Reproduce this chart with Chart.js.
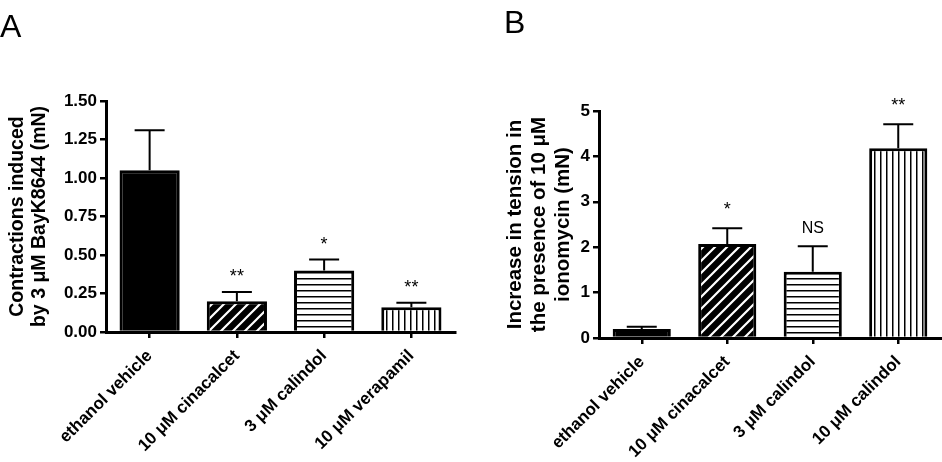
<!DOCTYPE html>
<html>
<head>
<meta charset="utf-8">
<script src="https://cdn.jsdelivr.net/npm/chart.js@4/dist/chart.umd.min.js"></script>
<style>
  body { margin: 0; background: #fff; }
  #wrap { position: relative; width: 942px; height: 462px; }
  canvas { position: absolute; top: 0; }
</style>
</head>
<body>
<div id="wrap">
  <canvas id="chartA" width="470" height="462" style="left:0"></canvas>
  <canvas id="chartB" width="472" height="462" style="left:470px"></canvas>
</div>
<script>
// panel A data
const labelsA = ['ethanol vehicle', '10 μM cinacalcet', '3 μM calindol', '10 μM verapamil'];
const meansA = [1.05, 0.20, 0.40, 0.16];
const semA = [0.26, 0.06, 0.07, 0.03];
const starsA = ['', '**', '*', '**'];
const ticksA = [0, 0.25, 0.5, 0.75, 1.0, 1.25, 1.5];

// panel B data
const labelsB = ['ethanol vehicle', '10 μM cinacalcet', '3 μM calindol', '10 μM calindol'];
const meansB = [0.20, 2.07, 1.46, 4.18];
const semB = [0.05, 0.35, 0.56, 0.53];
const starsB = ['', '*', 'NS', '**'];
const ticksB = [0, 1, 2, 3, 4, 5];

const FONT = "'Liberation Sans', Arial, Helvetica, sans-serif";

// hatch fills
function makePattern(kind) {
  const c = document.createElement('canvas');
  const x = c.getContext('2d');
  if (kind === 'diag') {
    c.width = 12; c.height = 12;
    x.fillStyle = '#000'; x.fillRect(0, 0, 12, 12);
    x.strokeStyle = '#fff'; x.lineWidth = 2.2;
    x.beginPath();
    x.moveTo(-3, 15); x.lineTo(15, -3);
    x.moveTo(-9, 9); x.lineTo(9, -9);
    x.moveTo(3, 21); x.lineTo(21, 3);
    x.stroke();
  } else if (kind === 'horiz') {
    c.width = 6; c.height = 6;
    x.fillStyle = '#fff'; x.fillRect(0, 0, 6, 6);
    x.fillStyle = '#000'; x.fillRect(0, 2, 6, 1.5);
  } else {
    c.width = 6; c.height = 6;
    x.fillStyle = '#fff'; x.fillRect(0, 0, 6, 6);
    x.fillStyle = '#000'; x.fillRect(2, 0, 1.5, 6);
  }
  return x.createPattern(c, 'repeat');
}

// error bars + significance marks
const errorBarPlugin = {
  id: 'errorBars',
  afterDatasetsDraw(chart, args, opts) {
    const ctx = chart.ctx;
    const meta = chart.getDatasetMeta(0);
    const yScale = chart.scales.y;
    const means = chart.data.datasets[0].data;
    ctx.save();
    ctx.strokeStyle = '#000';
    ctx.lineWidth = 2;
    meta.data.forEach((bar, i) => {
      const top = yScale.getPixelForValue(means[i] + opts.errors[i]);
      const base = yScale.getPixelForValue(means[i]);
      ctx.beginPath();
      ctx.moveTo(bar.x, base);
      ctx.lineTo(bar.x, top);
      ctx.moveTo(bar.x - opts.cap / 2, top);
      ctx.lineTo(bar.x + opts.cap / 2, top);
      ctx.stroke();
      const s = opts.marks[i];
      if (s) {
        ctx.fillStyle = '#000';
        ctx.textAlign = 'center';
        ctx.textBaseline = 'alphabetic';
        ctx.font = (s === 'NS' ? '16px ' : '18px ') + FONT;
        ctx.fillText(s, bar.x, top - opts.gap);
      }
    });
    ctx.restore();
  }
};

const panelLetter = {
  id: 'panelLetter',
  afterDraw(chart, args, opts) {
    const ctx = chart.ctx;
    ctx.save();
    ctx.fillStyle = '#000';
    ctx.font = '32px ' + FONT;
    ctx.textBaseline = 'alphabetic';
    ctx.fillText(opts.text, opts.x, opts.y);
    ctx.restore();
  }
};

function buildChart(id, cfg) {
  const ctx = document.getElementById(id).getContext('2d');
  return new Chart(ctx, {
    type: 'bar',
    data: {
      labels: cfg.labels,
      datasets: [{
        data: cfg.means,
        backgroundColor: ['#000', makePattern('diag'), makePattern('horiz'), makePattern('vert')],
        borderColor: '#000',
        borderWidth: 3,
        barPercentage: cfg.barPct,
        categoryPercentage: 1
      }]
    },
    options: {
      responsive: false,
      animation: false,
      layout: { padding: cfg.padding },
      scales: {
        x: {
          grid: { display: true, drawOnChartArea: false, offset: false, color: '#000', lineWidth: 2.5, tickLength: 6 },
          border: { display: true, color: '#000', width: 3 },
          ticks: {
            color: '#000', autoSkip: false, maxRotation: 45, minRotation: 45, padding: 8,
            font: { family: FONT, size: 17, weight: 'bold' }
          },
          afterFit(scale) { scale.height = cfg.xHeight; }
        },
        y: {
          min: 0,
          max: cfg.ticks[cfg.ticks.length - 1],
          afterBuildTicks(scale) { scale.ticks = cfg.ticks.map(v => ({ value: v })); },
          grid: { display: true, drawOnChartArea: false, color: '#000', lineWidth: 2.5, tickLength: 6 },
          border: { display: true, color: '#000', width: 3 },
          ticks: {
            color: '#000', padding: 3,
            font: { family: FONT, size: 17, weight: 'bold' },
            callback: cfg.tickFmt
          },
          title: {
            display: true,
            text: cfg.yTitle,
            color: '#000',
            padding: { top: cfg.titlePad, bottom: 0 },
            font: { family: FONT, size: cfg.titleSize, weight: 'bold', lineHeight: cfg.titleLH }
          },
          afterFit(scale) { scale.width = cfg.yWidth; }
        }
      },
      plugins: {
        legend: { display: false },
        tooltip: { enabled: false },
        errorBars: { errors: cfg.errors, marks: cfg.marks, cap: 30, gap: cfg.gap },
        panelLetter: cfg.letter
      }
    },
    plugins: [errorBarPlugin, panelLetter]
  });
}

buildChart('chartA', {
  labels: labelsA, means: meansA, errors: semA, marks: starsA, ticks: ticksA,
  tickFmt: v => Number(v).toFixed(2),
  yTitle: ['Contractions induced', 'by 3 μM BayK8644 (mN)'],
  titleSize: 19.5, titleLH: 1.1, titlePad: 7,
  padding: { left: 0, top: 101, right: 15, bottom: 0 },
  yWidth: 106, xHeight: 130, barPct: 0.69, gap: 10,
  letter: { text: 'A', x: 0, y: 37 }
});

buildChart('chartB', {
  labels: labelsB, means: meansB, errors: semB, marks: starsB, ticks: ticksB,
  tickFmt: v => String(v),
  yTitle: ['Increase in tension in', 'the presence of 10 μM', 'ionomycin (mN)'],
  titleSize: 20.5, titleLH: 1.17, titlePad: 33,
  padding: { left: 0, top: 111, right: 1, bottom: 0 },
  yWidth: 129, xHeight: 124, barPct: 0.68, gap: 13,
  letter: { text: 'B', x: 34, y: 33 }
});
</script>
</body>
</html>
